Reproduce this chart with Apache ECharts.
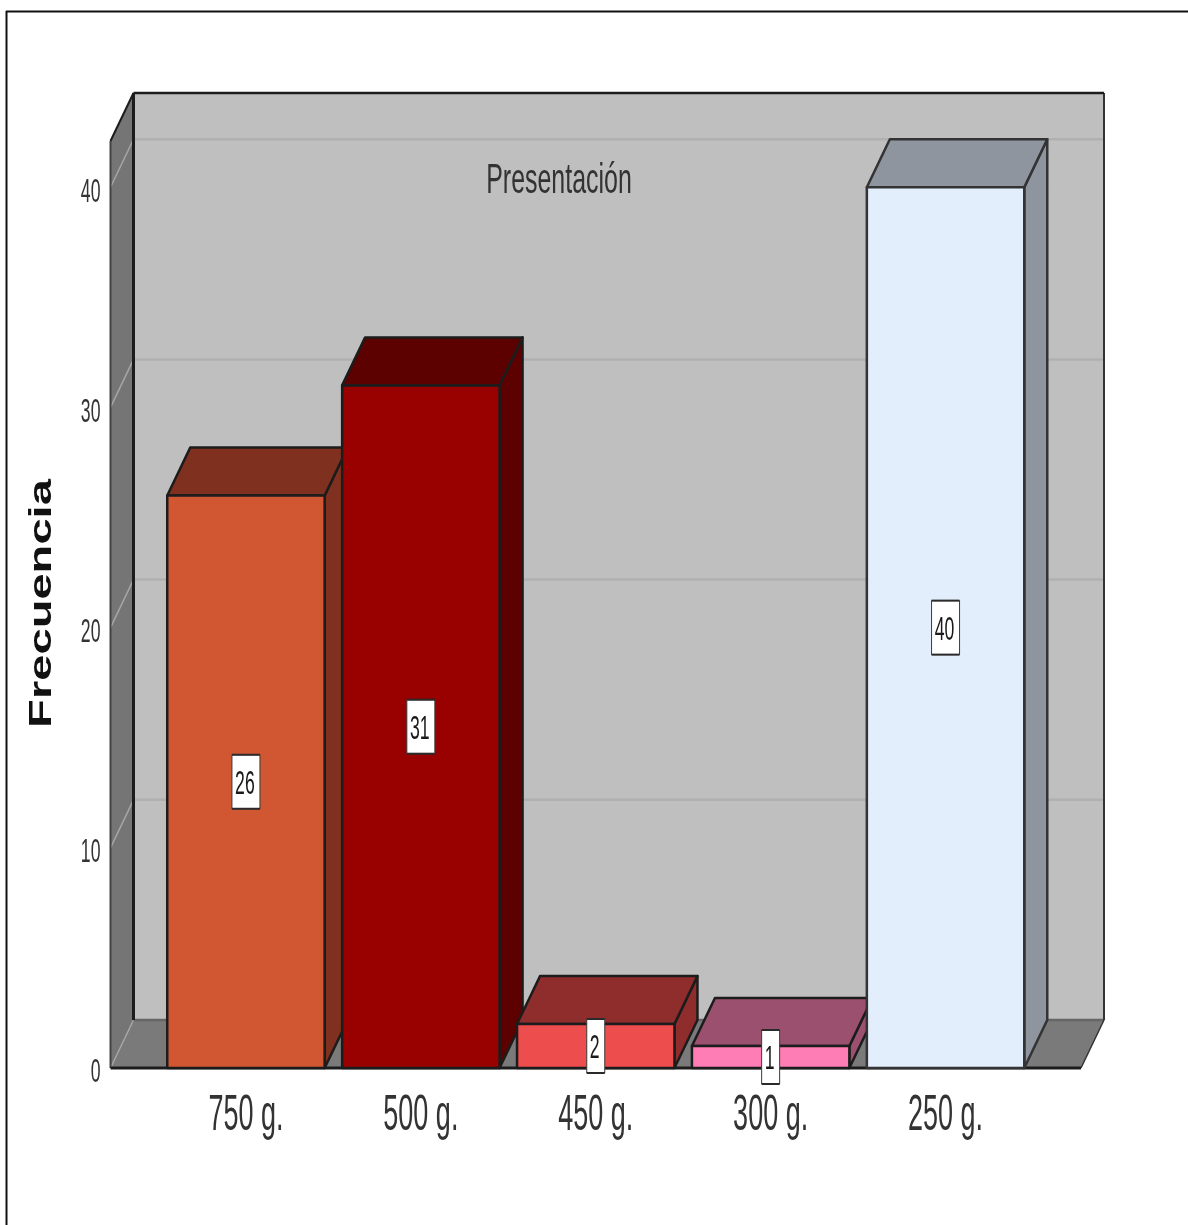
<!DOCTYPE html>
<html>
<head>
<meta charset="utf-8">
<title>Presentación</title>
<script src="https://cdn.jsdelivr.net/npm/echarts@6/dist/echarts.min.js"></script>
<style>
  html, body { margin: 0; padding: 0; background: #fff; }
  #chart { width: 1188px; height: 1225px; }
</style>
</head>
<body>
<div id="chart"></div>
<script>
// Frequency of each package size
const categories = ['750 g.', '500 g.', '450 g.', '300 g.', '250 g.'];
const frequencies = [26, 31, 2, 1, 40];
const tickValues = [0, 10, 20, 30, 40];
const wallTopValue = 42.1;
const axisTitle = 'Frecuencia';
const chartTitle = 'Presentación';

// Front face and shaded top/side colour of every bar
const faceColors = ['#D15632', '#990000', '#EE4D4D', '#FF7DB5', '#E2EEFB'];
const shadeColors = ['#80301F', '#5C0000', '#8F2C2C', '#9C5070', '#8E959E'];

// Oblique projection of the box and the room behind it
const DEPTH_X = 23;
const DEPTH_Y = 48;
const ROOM_PAD = 48;
const EDGE = '#1c1c1c';
const TEXT = '#333333';
const FONT = '"Liberation Sans", Arial, sans-serif';

const chart = echarts.init(document.getElementById('chart'), null, { renderer: 'canvas' });

function line(x1, y1, x2, y2, stroke, lineWidth) {
  return { type: 'line', shape: { x1, y1, x2, y2 }, style: { stroke, lineWidth, fill: null } };
}
function poly(points, fill, stroke, lineWidth) {
  return { type: 'polygon', shape: { points }, style: { fill, stroke: stroke || null, lineWidth: lineWidth || 0, lineJoin: 'round' } };
}
// Condensed text: the glyphs are tall and narrow, so it is squeezed along its baseline
function tallText(text, x, y, fontSize, scaleX, align, fill) {
  return {
    type: 'text', x, y, scaleX,
    style: { text, fontFamily: FONT, fontSize, fill: fill || TEXT, align, verticalAlign: 'middle' }
  };
}

// Back wall, side wall, floor and grid lines
function renderRoom(params, api) {
  const cs = params.coordSys;
  const left = cs.x - ROOM_PAD;
  const right = cs.x + cs.width + ROOM_PAD;
  const bottom = api.coord([0, 0])[1];
  const top = api.coord([0, wallTopValue])[1];
  const children = [];
  const backL = left + DEPTH_X, backR = right + DEPTH_X;
  const backT = top - DEPTH_Y, backB = bottom - DEPTH_Y;

  children.push(poly([[backL, backT], [backR, backT], [backR, backB], [backL, backB]], '#BFBFBF'));
  tickValues.forEach(function (v) {
    if (v === 0) return;
    const y = api.coord([0, v])[1];
    children.push(line(backL, y - DEPTH_Y, backR, y - DEPTH_Y, '#B0B0B0', 2.5));
  });
  children.push(poly([[left, bottom], [right, bottom], [backR, backB], [backL, backB]], '#7A7A7A'));
  children.push(poly([[left, bottom], [left, top], [backL, backT], [backL, backB]], '#757575'));
  tickValues.forEach(function (v) {
    const y = api.coord([0, v])[1];
    children.push(line(left, y, backL, y - DEPTH_Y, '#A6A6A6', 1.5));
  });
  children.push(line(backL, backB, backR, backB, '#666666', 2.5));
  children.push(line(right, bottom, backR, backB, '#333333', 1.5));
  children.push(line(backR, backB, backR, backT, '#333333', 2));
  children.push(line(backL, backT, backR, backT, EDGE, 2.5));
  children.push(line(backL, backT, backL, backB, EDGE, 3));
  children.push(line(left, top, backL, backT, EDGE, 2));
  children.push(line(left, top, left, bottom, '#444444', 2));
  children.push(line(left, bottom, right, bottom, EDGE, 3));
  return { type: 'group', children };
}

// One box: front face plus the shaded top and side
function renderBar(params, api) {
  const i = api.value(0);
  const base = api.coord([i, 0]);
  const tip = api.coord([i, api.value(1)]);
  const w = api.size([1, 0])[0] * 0.9;
  const l = base[0] - w / 2, r = base[0] + w / 2;
  const t = tip[1], b = base[1];
  const shade = shadeColors[i];
  const edge = i === 4 ? '#333333' : EDGE;
  return {
    type: 'group',
    children: [
      poly([[r, t], [r + DEPTH_X, t - DEPTH_Y], [r + DEPTH_X, b - DEPTH_Y], [r, b]], shade, edge, 2.5),
      poly([[l, t], [l + DEPTH_X, t - DEPTH_Y], [r + DEPTH_X, t - DEPTH_Y], [r, t]], shade, edge, 2.5),
      poly([[l, t], [r, t], [r, b], [l, b]], faceColors[i], edge, 2.5)
    ]
  };
}

// White tag with the count, centred on the front face
function renderTag(params, api) {
  const i = api.value(0);
  const v = api.value(1);
  const c = api.coord([i, v / 2]);
  const text = String(v);
  const boxW = text.length > 1 ? 28 : 18;
  const boxH = 54;
  const x = c[0] - boxW / 2, y = c[1] - boxH / 2;
  return {
    type: 'group',
    children: [
      {
        type: 'rect',
        shape: { x, y, width: boxW, height: boxH },
        style: { fill: '#FFFFFF', stroke: '#3a3a3a', lineWidth: 1 }
      },
      line(x, y, x + boxW, y, '#2a2a2a', 2),
      line(x, y + boxH, x + boxW, y + boxH, '#2a2a2a', 2),
      tallText(text, c[0] - 1, c[1] + 3, 34, 0.52, 'center', '#1a1a1a')
    ]
  };
}

function renderValueLabel(params, api) {
  const v = api.value(0);
  const y = api.coord([0, v])[1];
  return tallText(String(v), params.coordSys.x - ROOM_PAD - 10, y + 5, 34, 0.52, 'right');
}

function renderCategoryLabel(params, api) {
  const i = api.value(0);
  const x = api.coord([i, 0])[0];
  return tallText(categories[i], x, api.coord([0, 0])[1] + 48, 50, 0.54, 'center');
}

function renderTexts(params, api) {
  return {
    type: 'group',
    children: [
      tallText(chartTitle, 559, 181, 43, 0.58, 'center'),
      {
        type: 'text', x: 42, y: 603.5, rotation: Math.PI / 2, scaleX: 1.52,
        style: { text: axisTitle, fontFamily: FONT, fontWeight: 'bold', fontSize: 31, fill: '#111111', align: 'center', verticalAlign: 'middle' }
      }
    ]
  };
}

const customBase = { type: 'custom', silent: true, animation: false };

chart.setOption({
  animation: false,
  backgroundColor: '#FFFFFF',
  grid: { left: 158.5, width: 874.5, top: 141, height: 927, containLabel: false },
  xAxis: {
    type: 'category',
    data: categories,
    axisLine: { show: false },
    axisTick: { show: false },
    axisLabel: { show: false }
  },
  yAxis: {
    type: 'value',
    min: 0,
    max: wallTopValue,
    interval: 10,
    axisLine: { show: false },
    axisTick: { show: false },
    axisLabel: { show: false },
    splitLine: { show: false }
  },
  graphic: [
    { type: 'line', silent: true, shape: { x1: 6, y1: 11.5, x2: 1188, y2: 11.5 }, style: { stroke: '#111111', lineWidth: 2 } },
    { type: 'line', silent: true, shape: { x1: 6.5, y1: 11, x2: 6.5, y2: 1225 }, style: { stroke: '#111111', lineWidth: 2 } }
  ],
  series: [
    Object.assign({}, customBase, { name: 'room', z: 1, renderItem: renderRoom, data: [[0]] }),
    Object.assign({}, customBase, {
      name: 'Frecuencia', z: 2, renderItem: renderBar,
      encode: { x: 0, y: 1 },
      data: frequencies.map(function (v, i) { return [i, v]; })
    }),
    Object.assign({}, customBase, {
      name: 'tags', z: 3, renderItem: renderTag,
      encode: { x: 0, y: 1 },
      data: frequencies.map(function (v, i) { return [i, v]; })
    }),
    Object.assign({}, customBase, { name: 'valueLabels', z: 4, renderItem: renderValueLabel, data: tickValues.map(function (v) { return [v]; }) }),
    Object.assign({}, customBase, { name: 'categoryLabels', z: 4, renderItem: renderCategoryLabel, data: categories.map(function (c, i) { return [i]; }) }),
    Object.assign({}, customBase, { name: 'titles', z: 4, renderItem: renderTexts, data: [[0]] })
  ]
});
</script>
</body>
</html>
